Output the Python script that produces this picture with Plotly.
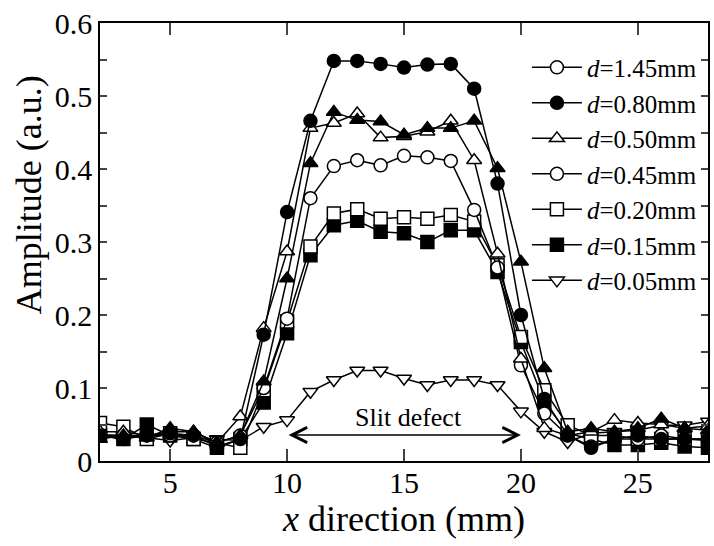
import plotly.graph_objects as go

x_mm = list(range(2, 29))

# amplitude series (a.u.), x = 2..28 mm
amp_145 = [0.030, 0.035, 0.032, 0.045, 0.040, 0.025, 0.035, 0.109, 0.250, 0.408, 0.478, 0.467, 0.465, 0.447,
           0.456, 0.456, 0.466, 0.401, 0.273, 0.127, 0.040, 0.045, 0.040, 0.045, 0.058, 0.045, 0.042]
amp_080 = [0.035, 0.030, 0.035, 0.038, 0.035, 0.020, 0.030, 0.173, 0.341, 0.466, 0.548, 0.548, 0.544, 0.539,
           0.543, 0.544, 0.510, 0.380, 0.200, 0.085, 0.035, 0.018, 0.030, 0.035, 0.030, 0.030, 0.028]
amp_050 = [0.040, 0.040, 0.035, 0.040, 0.040, 0.025, 0.061, 0.182, 0.287, 0.456, 0.463, 0.476, 0.443, 0.445,
           0.451, 0.466, 0.412, 0.284, 0.140, 0.045, 0.035, 0.040, 0.056, 0.052, 0.050, 0.045, 0.048]
amp_045 = [0.035, 0.035, 0.035, 0.035, 0.035, 0.025, 0.035, 0.100, 0.195, 0.360, 0.404, 0.412, 0.405, 0.418,
           0.416, 0.411, 0.344, 0.265, 0.131, 0.065, 0.035, 0.020, 0.030, 0.030, 0.035, 0.030, 0.030]
amp_020 = [0.052, 0.047, 0.030, 0.038, 0.030, 0.025, 0.018, 0.097, 0.191, 0.294, 0.339, 0.345, 0.332, 0.334,
           0.332, 0.337, 0.328, 0.268, 0.170, 0.097, 0.049, 0.035, 0.035, 0.030, 0.030, 0.030, 0.030]
amp_015 = [0.035, 0.030, 0.050, 0.035, 0.030, 0.018, 0.030, 0.080, 0.175, 0.282, 0.323, 0.329, 0.314, 0.312,
           0.300, 0.316, 0.316, 0.259, 0.163, 0.081, 0.038, 0.030, 0.022, 0.022, 0.025, 0.020, 0.018]
amp_005 = [0.036, 0.035, 0.032, 0.028, 0.032, 0.030, 0.028, 0.047, 0.056, 0.095, 0.111, 0.124, 0.124, 0.113,
           0.104, 0.111, 0.111, 0.104, 0.068, 0.040, 0.026, 0.038, 0.040, 0.042, 0.049, 0.049, 0.054]

legend_labels = ["1.45", "0.80", "0.50", "0.45", "0.20", "0.15", "0.05"]
legend_symbols = ["circle", "circle", "triangle-up", "circle", "square", "square", "triangle-down"]
legend_fills = ["white", "black", "white", "white", "white", "black", "white"]

# (data, symbol, fill) as drawn in the plot
plot_series = [
    (amp_005, "triangle-down", "white"),
    (amp_015, "square", "black"),
    (amp_020, "square", "white"),
    (amp_045, "circle", "white"),
    (amp_050, "triangle-up", "white"),
    (amp_145, "triangle-up", "black"),
    (amp_080, "circle", "black"),
]

slit_start, slit_end = 10, 20

fig = go.Figure()
for ys, sym, fill in plot_series:
    fig.add_trace(go.Scatter(
        x=x_mm, y=ys, mode="lines+markers", showlegend=False,
        line=dict(color="black", width=1.5),
        marker=dict(symbol=sym, size=13, color=fill, line=dict(color="black", width=1.5)),
    ))

for lab, sym, fill in zip(legend_labels, legend_symbols, legend_fills):
    fig.add_trace(go.Scatter(
        x=[None], y=[None], mode="lines+markers",
        name=f"<i>d</i>={lab}mm",
        line=dict(color="black", width=1.5),
        marker=dict(symbol=sym, size=13, color=fill, line=dict(color="black", width=1.5)),
    ))

serif = "Liberation Serif"
plot_h = 546 - 23 - 85
plot_w = 714 - 100 - 4

fig.add_annotation(x=slit_end, y=0.0356, ax=slit_start, ay=0.0356, axref="x", ayref="y",
                   xref="x", yref="y", text="", showarrow=True,
                   arrowhead=5, startarrowhead=5, arrowside="end+start",
                   arrowwidth=1.5, arrowsize=2, startarrowsize=2, arrowcolor="black")
fig.add_annotation(x=15.2, y=0.059, xref="x", yref="y", text="Slit defect", showarrow=False,
                   font=dict(family=serif, size=26, color="black"))
fig.add_annotation(x=(29 - 100) / plot_w, y=(546 - 85 - 195) / plot_h, xref="paper", yref="paper",
                   xanchor="center", yanchor="middle", text="Amplitude (a.u.)",
                   showarrow=False, textangle=-90,
                   font=dict(family=serif, size=36, color="black"))

fig.update_layout(
    width=714, height=546,
    margin=dict(l=100, r=4, t=23, b=85),
    paper_bgcolor="white", plot_bgcolor="white",
    font=dict(family=serif, color="black"),
    legend=dict(x=0.99, xanchor="right", y=0.655, yanchor="middle",
                bgcolor="rgba(0,0,0,0)", font=dict(family=serif, size=25, color="black"),
                itemwidth=50),
    xaxis=dict(range=[2, 28], tick0=5, dtick=5, ticks="inside", ticklen=12, tickwidth=1.5,
               showline=True, linecolor="black", linewidth=1.5, mirror="ticks",
               showgrid=False, zeroline=False, ticklabelstandoff=-6,
               tickfont=dict(family=serif, size=30, color="black"),
               title=dict(text="<i>x</i> direction (mm)", font=dict(family=serif, size=36, color="black"),
                          standoff=8)),
    yaxis=dict(range=[0, 0.6], dtick=0.1, ticks="inside", ticklen=7, tickwidth=1.5,
               showline=True, linecolor="black", linewidth=1.5, mirror="ticks",
               showgrid=False, zeroline=False,
               minor=dict(dtick=0.05, ticks="inside", ticklen=7, tickwidth=1.5, showgrid=False),
               tickfont=dict(family=serif, size=30, color="black")),
)

fig.write_html("out.html")
